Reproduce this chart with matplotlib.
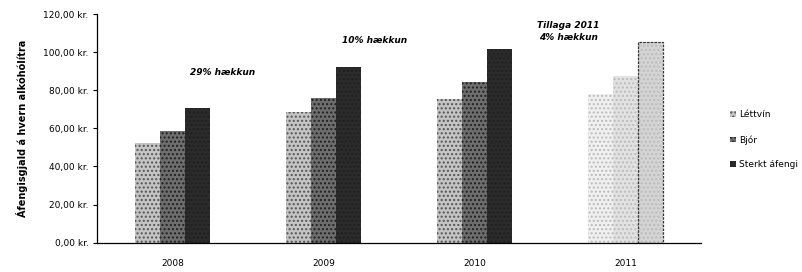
# Áfengisgjald á hvern alkóhólítra, 2008-2011
import matplotlib.pyplot as plt
import numpy as np

years = ['2008', '2009', '2010', '2011']
lettvin = [52.5, 68.4, 75.4, 78.3]
bjor = [58.6, 76.1, 84.2, 87.5]
sterkt = [70.8, 92.0, 101.5, 105.3]
series_names = ['Léttvín', 'Bjór', 'Sterkt áfengi']
yticks = [0, 20, 40, 60, 80, 100, 120]

plt.rcParams['font.family'] = ['DejaVu Sans']

fig = plt.figure(figsize=(8.02, 2.72), dpi=100)
ax = fig.add_axes([0.121, 0.108, 0.753, 0.840])

x = np.arange(len(years))
w = 0.166
colors = ['#c4c4c4', '#6e6e6e', '#2b2b2b']
light = ['#f0f0f0', '#e2e2e2', '#d4d4d4']

for i, (vals, name) in enumerate(zip([lettvin, bjor, sterkt], series_names)):
    pos = x + (i - 1) * w
    # 2008-2010 in solid greys, 2011 (tillaga) much lighter
    ax.bar(pos[:3], vals[:3], w, color=colors[i], hatch='....',
           edgecolor='#555555' if i == 0 else '#202020', linewidth=0, label=name)
    ax.bar(pos[3], vals[3], w, color=light[i], hatch='....',
           edgecolor='#bbbbbb', linewidth=0)
    if i == 2:
        ax.bar(pos[3], vals[3], w, facecolor='none', edgecolor='#333333',
               linewidth=0.9, linestyle=(0, (2, 1)))

ax.set_xlim(-0.5, 3.5)
ax.set_ylim(0, 120)
ax.set_yticks(yticks)
ax.set_yticklabels(['%d,00 kr.' % v for v in yticks], fontsize=6.5)
ax.set_xticks(x)
ax.set_xticklabels(years, fontsize=6.5)
ax.tick_params(axis='x', length=0, pad=12)
ax.tick_params(axis='y', length=3, width=0.8, pad=3)
ax.spines['top'].set_visible(False)
ax.spines['right'].set_visible(False)
ax.spines['left'].set_linestyle((0, (2, 1)))
ax.spines['bottom'].set_linestyle((0, (2, 1)))
ax.spines['left'].set_linewidth(0.9)
ax.spines['bottom'].set_linewidth(0.9)
ax.set_ylabel('Áfengisgjald á hvern alkóhólítra', fontsize=7, fontweight='bold', labelpad=11)

ax.text(0.33, 89.6, '29% hækkun', fontsize=6.5, style='italic', fontweight='bold', ha='center', va='center')
ax.text(1.34, 106.3, '10% hækkun', fontsize=6.5, style='italic', fontweight='bold', ha='center', va='center')
ax.text(2.62, 111, 'Tillaga 2011\n4% hækkun', fontsize=6.5, style='italic', fontweight='bold',
        ha='center', va='center', linespacing=1.5)

leg = ax.legend(loc='center left', bbox_to_anchor=(1.035, 0.45), frameon=False, fontsize=6.5,
                handlelength=0.6, handleheight=0.6, handletextpad=0.4, labelspacing=1.75)

fig.savefig('out.png', dpi=100)
